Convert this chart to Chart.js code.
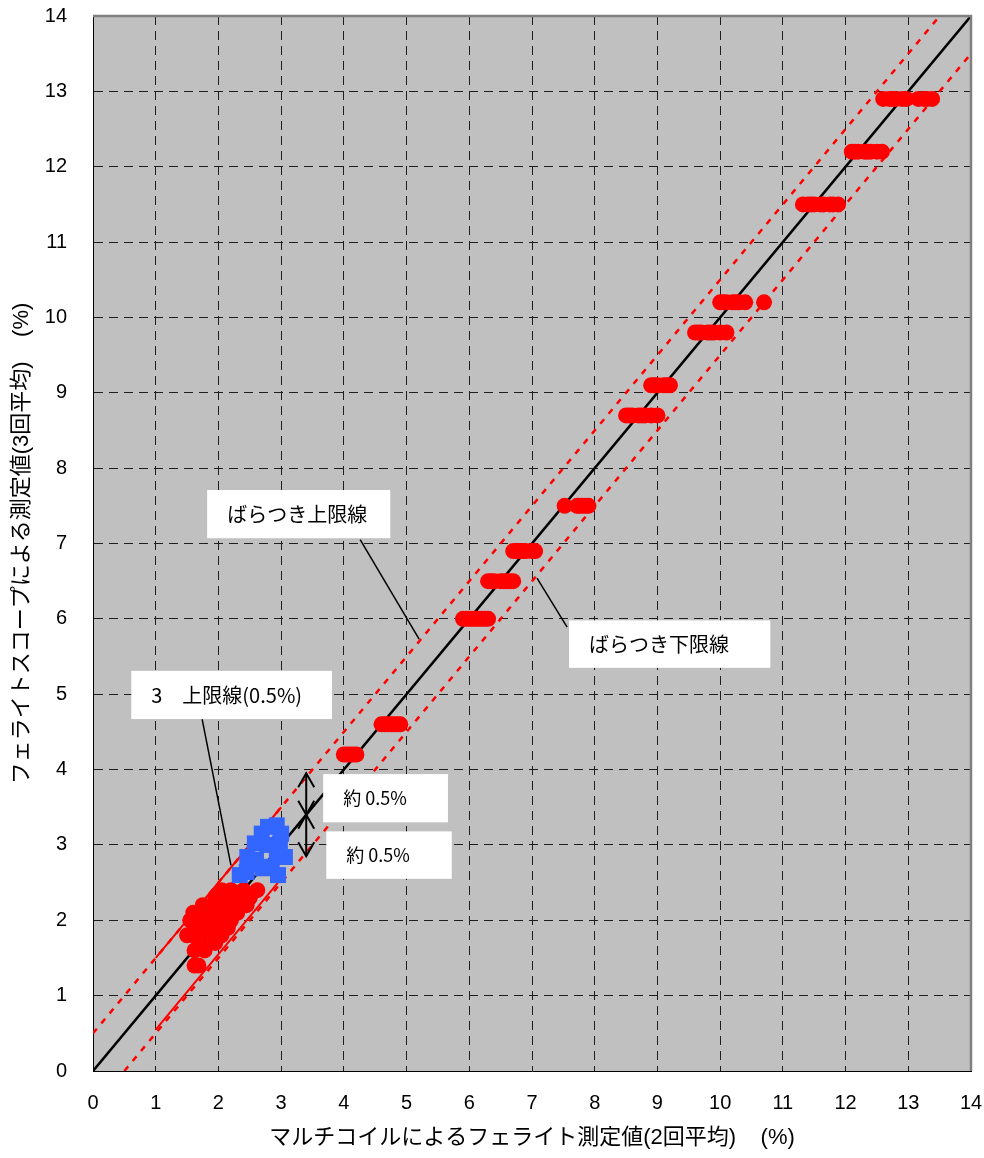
<!DOCTYPE html>
<html lang="ja">
<head>
<meta charset="utf-8">
<script src="https://cdn.jsdelivr.net/npm/chart.js@4"></script>
<style>
    body { margin: 0; background: #fff; }
    #wrap { width: 984px; height: 1158px; }
</style>
</head>
<body>
<div id="wrap"><canvas id="ferriteChart" width="984" height="1158"></canvas></div>
<script>
const tickLabels = ["0", "1", "2", "3", "4", "5", "6", "7", "8", "9", "10", "11", "12", "13", "14"];
const xTitle = "マルチコイルによるフェライト測定値(2回平均)    (%)";
const yTitle = "フェライトスコープによる測定値(3回平均)    (%)";

// upper rows: each level is a ferritescope value, list = multicoil readings
const rowLevels = [4.2, 4.6, 6.0, 6.5, 6.9, 7.5, 8.7, 9.1, 9.8, 10.2, 11.5, 12.2, 12.9];
const rowReadings = [
    [4.0, 4.05, 4.1, 4.15, 4.2],
    [4.6, 4.65, 4.7, 4.75, 4.8, 4.85, 4.9],
    [5.9, 5.95, 6.0, 6.05, 6.1, 6.15, 6.2, 6.25, 6.3],
    [6.3, 6.35, 6.4, 6.5, 6.55, 6.6, 6.65, 6.7],
    [6.7, 6.75, 6.8, 6.85, 6.9, 7.0, 7.05],
    [7.52, 7.72, 7.75, 7.8, 7.85, 7.9],
    [8.5, 8.55, 8.6, 8.7, 8.75, 8.8, 8.9, 9.0],
    [8.9, 8.95, 9.0, 9.1, 9.15, 9.2],
    [9.6, 9.65, 9.7, 9.8, 9.85, 9.9, 10.0, 10.1],
    [10.0, 10.05, 10.1, 10.2, 10.25, 10.3, 10.4, 10.7],
    [11.32, 11.4, 11.45, 11.5, 11.6, 11.65, 11.75, 11.8, 11.88],
    [12.1, 12.15, 12.2, 12.3, 12.35, 12.4, 12.5, 12.58],
    [12.6, 12.7, 12.75, 12.8, 12.9, 12.97, 13.16, 13.25, 13.3, 13.38]
];

const lowRedX = [1.62, 1.68, 1.62, 1.78, 1.7, 1.95, 1.5, 1.6, 1.75, 1.9, 2.05, 1.65, 1.85, 2.0, 2.15,
    1.55, 1.7, 1.9, 2.1, 2.2, 1.6, 1.8, 2.0, 2.15, 2.3, 1.75, 1.9, 2.1, 2.3, 2.45, 1.95, 2.1, 2.3, 2.5,
    2.05, 2.2, 2.4, 2.62];
const lowRedY = [1.4, 1.4, 1.6, 1.6, 1.7, 1.7, 1.8, 1.8, 1.8, 1.8, 1.8, 1.9, 1.9, 1.9, 1.9,
    2.0, 2.0, 2.0, 2.0, 2.0, 2.1, 2.1, 2.1, 2.1, 2.1, 2.2, 2.2, 2.2, 2.2, 2.2, 2.3, 2.3, 2.3, 2.3,
    2.4, 2.4, 2.4, 2.4];

const blueX = [2.34, 2.45, 2.46, 2.58, 2.69, 2.79, 2.93, 3.0, 2.98, 3.06, 2.93, 2.95, 2.85, 2.71, 2.6, 2.78, 2.5];
const blueY = [2.6, 2.64, 2.84, 3.02, 3.15, 3.24, 3.26, 3.15, 3.02, 2.84, 2.84, 2.6, 2.71, 2.69, 2.8, 3.0, 2.75];

const spread = 0.5;
const shortUpperX = [1.0, 3.0];
const shortLowerX = [1.0, 2.95];
const shortLowerOffset = 0.45;

const calloutX = [[4.26, 5.2], [7.56, 7.08], [1.74, 2.2]];
const calloutY = [[7.05, 5.73], [5.89, 6.54], [4.67, 2.73]];

const arrowX = 3.4;
const arrowYs = [3.95, 3.4, 2.85];

const noteText = ["ばらつき上限線", "ばらつき下限線", "3　上限線(0.5%)", "約 0.5%", "約 0.5%"];
const noteLeft = [1.82, 7.59, 0.61, 3.67, 3.72];
const noteRight = [4.74, 10.8, 3.81, 5.66, 5.72];
const noteTop = [7.71, 5.98, 5.31, 3.94, 3.18];
const noteBottom = [7.07, 5.35, 4.67, 3.3, 2.55];
const noteSize = [20, 20, 20, 18, 18];

const FONT = "'Liberation Sans', 'Noto Sans CJK JP', sans-serif";
const JP_FONT = "'Noto Sans CJK JP', 'Liberation Sans', sans-serif";

const pts = (xs, ys) => xs.map((x, i) => ({ x: x, y: ys[i] }));

function upperPoints() {
    const out = [];
    rowLevels.forEach((lv, i) => {
        rowReadings[i].forEach(x => out.push({ x: x, y: lv }));
    });
    return out;
}

function lineSet(data, color, width, dash, order) {
    return {
        data: data,
        showLine: true,
        borderColor: color,
        borderWidth: width,
        borderDash: dash || [],
        pointRadius: 0,
        fill: false,
        order: order
    };
}

const plotFrame = {
    id: "plotFrame",
    beforeDraw(chart) {
        const { ctx, chartArea: a } = chart;
        ctx.save();
        ctx.fillStyle = "#c0c0c0";
        ctx.fillRect(a.left, a.top, a.width, a.height);
        ctx.restore();
    },
    afterDraw(chart) {
        const { ctx, chartArea: a } = chart;
        ctx.save();
        ctx.strokeStyle = "#808080";
        ctx.lineWidth = 2.5;
        ctx.beginPath();
        ctx.moveTo(a.left, a.top);
        ctx.lineTo(a.right, a.top);
        ctx.lineTo(a.right, a.bottom);
        ctx.stroke();
        ctx.restore();
    }
};

const notes = {
    id: "notes",
    afterDatasetsDraw(chart) {
        const { ctx } = chart;
        const sx = chart.scales.x;
        const sy = chart.scales.y;

        // arrow heads on the 約0.5% markers
        const ax = sx.getPixelForValue(arrowX);
        const heads = [
            [arrowYs[0], -1], [arrowYs[1], 1], [arrowYs[1], -1], [arrowYs[2], 1]
        ];
        ctx.save();
        ctx.strokeStyle = "#000";
        ctx.lineWidth = 2;
        heads.forEach(h => {
            const ty = sy.getPixelForValue(h[0]);
            ctx.beginPath();
            ctx.moveTo(ax - 8, ty - h[1] * 14);
            ctx.lineTo(ax, ty);
            ctx.lineTo(ax + 8, ty - h[1] * 14);
            ctx.stroke();
        });
        ctx.restore();

        noteText.forEach((t, i) => {
            const l = sx.getPixelForValue(noteLeft[i]);
            const r = sx.getPixelForValue(noteRight[i]);
            const tp = sy.getPixelForValue(noteTop[i]);
            const bt = sy.getPixelForValue(noteBottom[i]);
            ctx.save();
            ctx.fillStyle = "#fff";
            ctx.fillRect(l, tp, r - l, bt - tp);
            ctx.fillStyle = "#000";
            ctx.font = `${noteSize[i]}px ${JP_FONT}`;
            ctx.textBaseline = "middle";
            ctx.fillText(t, l + 20, (tp + bt) / 2);
            ctx.restore();
        });
    }
};

function renderChart() {
    const ctx = document.getElementById("ferriteChart").getContext("2d");

    const datasets = [
        {
            data: pts(blueX, blueY),
            pointStyle: "rect",
            pointRadius: 11.3,
            pointBorderWidth: 0,
            backgroundColor: "#3366ff",
            order: 1
        },
        {
            data: pts(lowRedX, lowRedY).concat(upperPoints()),
            pointStyle: "circle",
            pointRadius: 8,
            pointBorderWidth: 0,
            backgroundColor: "#ff0000",
            order: 2
        },
        lineSet(pts([0, 14], [0, 14]), "#000", 2.5, null, 5),
        lineSet(pts([0, 14 - spread], [spread, 14]), "#ff0000", 2.5, [6, 7], 6),
        lineSet(pts([spread, 14], [0, 14 - spread]), "#ff0000", 2.5, [6, 7], 6),
        lineSet(pts(shortUpperX, shortUpperX.map(x => x + spread)), "#ff0000", 2, null, 4),
        lineSet(pts(shortLowerX, shortLowerX.map(x => x - shortLowerOffset)), "#ff0000", 2, null, 4),
        lineSet(pts([arrowX, arrowX], [arrowYs[0], arrowYs[2]]), "#000", 2, null, 3)
    ];
    calloutX.forEach((xs, i) => datasets.push(lineSet(pts(xs, calloutY[i]), "#000", 1.5, null, 3)));

    const gridColor = c => (c.tick.value > 0 && c.tick.value < 14) ? "#1e1e1e" : "rgba(0,0,0,0)";

    // tick marks are invisible and only push the labels away from the axis
    new Chart(ctx, {
        type: "scatter",
        data: { datasets: datasets },
        options: {
            responsive: false,
            animation: false,
            events: [],
            layout: { padding: { left: 0, right: 13, top: 16, bottom: 0 } },
            plugins: { legend: { display: false }, tooltip: { enabled: false } },
            scales: {
                x: {
                    type: "linear",
                    min: 0,
                    max: 14,
                    afterFit: s => { s.height = 87; },
                    ticks: {
                        stepSize: 1,
                        padding: 0,
                        maxRotation: 0,
                        color: "#000",
                        font: { size: 20, family: FONT },
                        callback: v => tickLabels[v]
                    },
                    grid: { color: gridColor, lineWidth: 1, drawTicks: true, tickLength: 20, tickColor: "rgba(0,0,0,0)" },
                    border: { color: "#000", width: 1, dash: [9, 6] },
                    title: {
                        display: true,
                        text: xTitle,
                        color: "#000",
                        font: { size: 22, family: FONT },
                        padding: { top: 0, bottom: 7 }
                    }
                },
                y: {
                    type: "linear",
                    min: 0,
                    max: 14,
                    afterFit: s => { s.width = 93; },
                    ticks: {
                        stepSize: 1,
                        padding: 0,
                        color: "#000",
                        font: { size: 20, family: FONT },
                        callback: v => tickLabels[v]
                    },
                    grid: { color: gridColor, lineWidth: 1, drawTicks: true, tickLength: 26, tickColor: "rgba(0,0,0,0)" },
                    border: { color: "#000", width: 1, dash: [9, 6] },
                    title: {
                        display: true,
                        text: yTitle,
                        color: "#000",
                        font: { size: 22, family: FONT },
                        padding: { top: 9, bottom: 0 }
                    }
                }
            }
        },
        plugins: [plotFrame, notes]
    });
}

renderChart();
</script>
</body>
</html>
